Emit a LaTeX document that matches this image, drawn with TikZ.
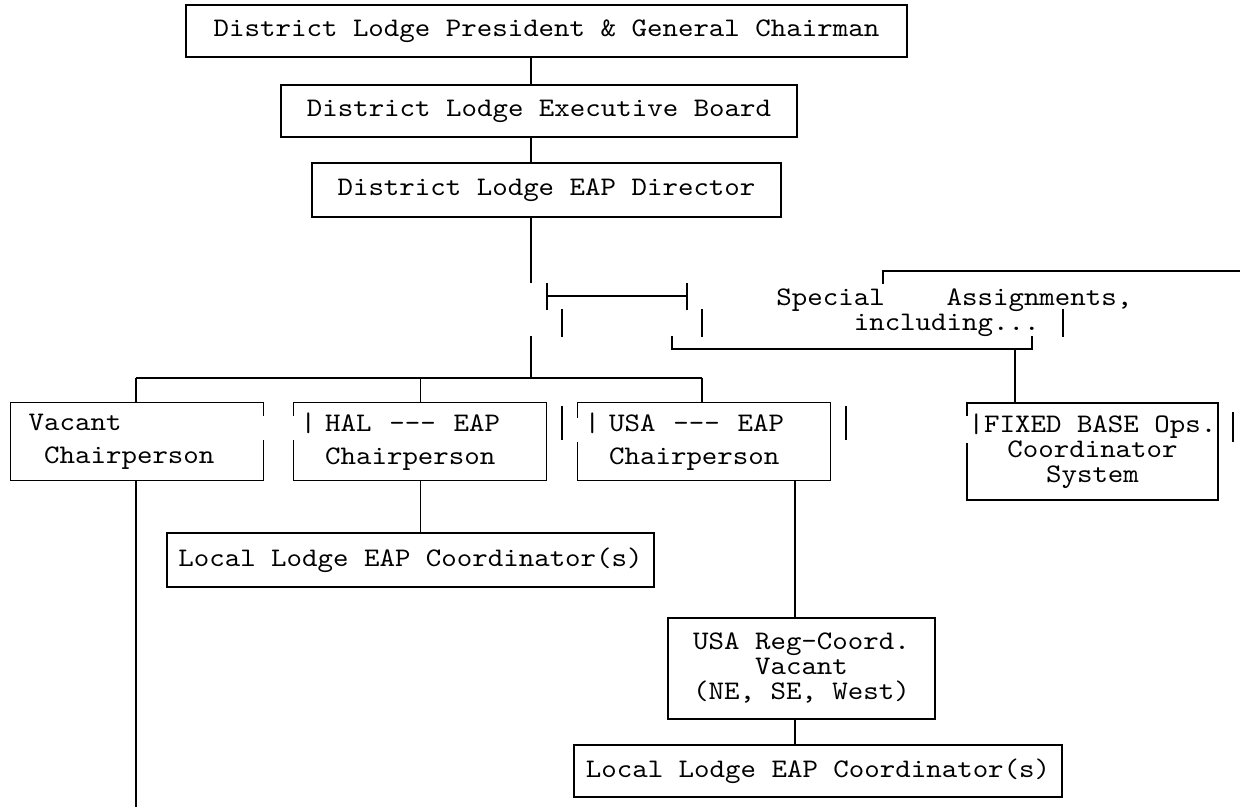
\documentclass[tikz,border=0pt]{standalone}
\usepackage{fontspec}
\newfontfamily\tw{lmmono10-regular}[Extension=.otf, Ligatures=TeXOff, FakeStretch=1.1]
\usetikzlibrary{calc}
\tikzset{
  box/.style={draw, line width=0.7pt, inner sep=0pt, align=center,
    font={\tw\fontsize{13.4pt}{12.5pt}\selectfont}},
  rowbox/.style={box, anchor=north west, minimum width=126.5pt,
    minimum height=39pt, align=left},
  note/.style={inner sep=0pt, align=left, anchor=base west,
    font={\tw\fontsize{13.4pt}{12.5pt}\selectfont}},
  wire/.style={line width=0.7pt},
  nick/.style={white, line width=2pt}
}

\begin{document}
\begin{tikzpicture}[x=0.5pt, y=-0.5pt]
  \fill[white] (0,0) rectangle (1240,807);
  \useasboundingbox (0,0) rectangle (1240,807);
  % top of the chart
  \node[box, minimum width=360.5pt, minimum height=26pt] (pres) at (546.5,31) {District Lodge President \& General Chairman};
  \node[box, minimum width=258pt, minimum height=26pt] (board) at (539,111) {District Lodge Executive Board};
  \node[box, minimum width=234.5pt, minimum height=27pt] (dir) at (546.5,190) {District Lodge EAP Director};
  % chairpersons
  \node[rowbox, text width=108.5pt] (vac) at (10,402) {Vacant\\[4pt]\phantom{V}Chairperson};
  \node[rowbox, text width=119.5pt] (hal) at (293,402) {|\ HAL\ \ ---\ \ EAP\\[4pt]\phantom{|\ }Chairperson};
  \node[rowbox, text width=119.5pt] (usa) at (577,402) {|\ USA\ \ ---\ \ EAP\\[4pt]\phantom{|\ }Chairperson};
  \node[box, minimum width=243.5pt, minimum height=27pt] (loc1) at (410.5,560) {Local Lodge EAP Coordinator(s)};
  \node[box, minimum width=133.5pt, minimum height=50.5pt] (regc) at (801.5,668.5) {USA Reg-Coord.\\Vacant\\(NE, SE, West)};
  \node[box, minimum width=244pt, minimum height=26pt] (loc2) at (818,771) {Local Lodge EAP Coordinator(s)};
  % special assignments
  \node[note] (spec) at (776,330) {Special\ \ \ \ Assignments,\\\phantom{12345}including...};
  \node[box, minimum width=125.5pt, minimum height=48.5pt] (fbo) at (1092.5,451.5) {|FIXED BASE Ops.\\Coordinator\\System};

  % breaks left by the typewriter in the box edges
  \draw[nick] (263,416) -- (263,440);
  \draw[nick] (293,416) -- (293,440);
  \draw[nick] (577,418) -- (577,442);
  \draw[nick] (967,416) -- (967,443);

  \coordinate (trunk) at (531,0);
  \coordinate (brk1) at (531,283);
  \coordinate (brk2) at (531,336);
  \coordinate (bus) at (531,378);
  \coordinate (busL) at (136,378);
  \coordinate (busR) at (702,378);
  \coordinate (vend) at (136,807);
  \coordinate (ux) at (795,0);
  \coordinate (fx) at (1015,349);

  \draw[wire] (pres.south -| trunk) -- (board.north -| trunk);
  \draw[wire] (board.south -| trunk) -- (dir.north -| trunk);
  \draw[wire] (dir.south -| trunk) -- (brk1);
  \draw[wire] (brk2) -- (bus);
  \draw[wire] (busL) -- (busR);
  \draw[wire] (busL) -- (busL |- vac.north);
  \draw[wire] (hal.north |- bus) -- (hal.north);
  \draw[wire] (busR) -- (busR |- usa.north);
  \draw[wire] (busL |- vac.south) -- (vend);
  \draw[wire] (hal.south) -- (hal.south |- loc1.north);
  \draw[wire] (usa.south -| ux) -- (regc.north -| ux);
  \draw[wire] (regc.south -| ux) -- (loc2.north -| ux);
  \draw[wire] (fx) -- (fbo.north -| fx);

  % typed brackets and bars
  \draw[wire] (547,283) -- (547,310) (687,283) -- (687,310) (547,296) -- (687,296);
  \draw[wire] (562,309) -- (562,337) (702,309) -- (702,337) (1063,309) -- (1063,337);
  \draw[wire] (672,336) -- (672,349) -- (1032,349) -- (1032,336);
  \draw[wire] (883,284) -- (883,271) -- (1240,271);
  \draw[wire] (562,406) -- (562,440) (846,406) -- (846,440) (1233,412) -- (1233,442);
\end{tikzpicture}
\end{document}
